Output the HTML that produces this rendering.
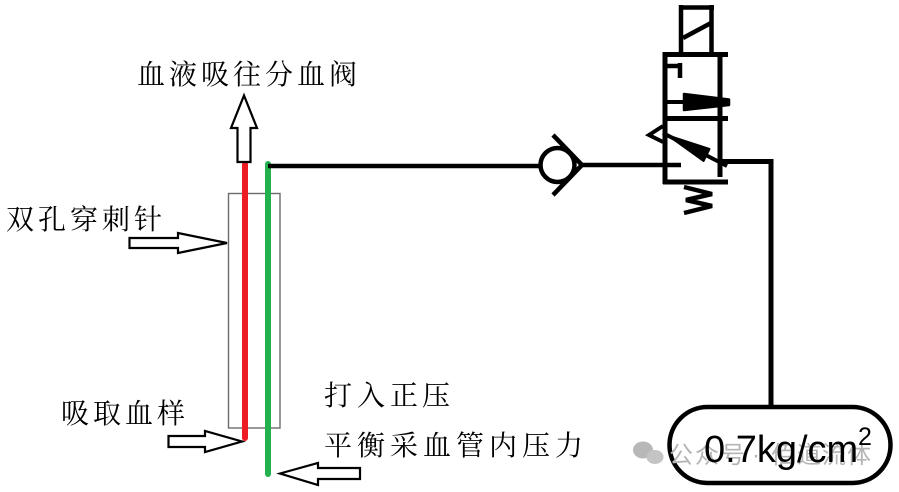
<!DOCTYPE html>
<html>
<head>
<meta charset="utf-8">
<style>
html,body{margin:0;padding:0;background:#fff;}
svg{display:block;}
.cjk{font-family:"Liberation Serif","Noto Serif CJK SC","Noto Sans CJK SC",serif;font-size:28px;fill:#000;}
.wm{font-family:"Liberation Sans","Noto Sans CJK SC",sans-serif;font-size:24px;fill:#b5b5b5;}
</style>
</head>
<body>
<svg width="899" height="492" viewBox="0 0 899 492" xmlns="http://www.w3.org/2000/svg">
  <rect x="0" y="0" width="899" height="492" fill="#fff"/>

  <!-- Labels -->
  <text class="cjk" x="137 169 201 233 265 297 329" y="84">血液吸往分血阀</text>
  <text class="cjk" x="6 38 70 102 134" y="229">双孔穿刺针</text>
  <text class="cjk" x="61 93 125 157" y="423">吸取血样</text>
  <text class="cjk" x="324 357 390 422" y="405">打入正压</text>
  <text class="cjk" x="324 357 390 423 456 489 522 555" y="455">平衡采血管内压力</text>

  <!-- Needle body rectangle -->
  <rect x="228.5" y="193.5" width="51.5" height="234.5" fill="none" stroke="#6b6b6b" stroke-width="1.4"/>
  <!-- red and green lines -->
  <line x1="245" y1="164" x2="245" y2="438" stroke="#ED1C24" stroke-width="6" stroke-linecap="round"/>
  <line x1="245" y1="164" x2="245" y2="170" stroke="#ED1C24" stroke-width="6"/>
  <line x1="268" y1="164" x2="268" y2="474" stroke="#22B14C" stroke-width="6" stroke-linecap="round"/>
  <line x1="268" y1="164" x2="268" y2="170" stroke="#22B14C" stroke-width="6"/>

  <!-- Outline arrows -->
  <polygon points="237.5,162 237.5,128 231,128 244,95.5 257,128 250.5,128 250.5,162" fill="#fff" stroke="#000" stroke-width="2.2"/>
  <polygon points="129.5,238 178,238 178,233 227,243 178,253 178,248 129.5,248" fill="#fff" stroke="#000" stroke-width="2.2"/>
  <polygon points="168.5,436 205,436 205,431 242,441.5 205,452 205,447 168.5,447" fill="#fff" stroke="#000" stroke-width="2.2"/>
  <polygon points="280,473.5 318,463 318,468 360,468 360,479 318,479 318,485" fill="#fff" stroke="#000" stroke-width="2.2"/>

  <!-- Pipe from needle to check valve -->
  <line x1="268" y1="166" x2="539" y2="166" stroke="#000" stroke-width="4.5"/>
  <!-- Check valve -->
  <circle cx="557.5" cy="165" r="17" fill="#fff" stroke="#000" stroke-width="4.5"/>
  <polyline points="553,135 582,165 553,195" fill="none" stroke="#000" stroke-width="4.5"/>
  <line x1="580" y1="165" x2="681" y2="165" stroke="#000" stroke-width="4.5"/>

  <!-- Solenoid coil -->
  <g stroke="#000" stroke-width="4.5" fill="none">
    <line x1="681" y1="5" x2="681" y2="55"/>
    <line x1="711.5" y1="5" x2="711.5" y2="55"/>
    <line x1="679" y1="7.5" x2="714" y2="7.5"/>
    <line x1="683" y1="38" x2="711" y2="23"/>
  </g>

  <!-- Valve body -->
  <g stroke="#000" stroke-width="5" fill="none">
    <line x1="665" y1="52" x2="665" y2="184"/>
    <line x1="663" y1="54.5" x2="728" y2="54.5"/>
    <line x1="663" y1="118.5" x2="728" y2="118.5"/>
    <line x1="663" y1="182" x2="728" y2="182"/>
    <line x1="720" y1="52" x2="720" y2="177"/>
  </g>
  <!-- stop symbol -->
  <g stroke="#000" stroke-width="4.5" fill="none">
    <line x1="666" y1="66" x2="682" y2="66"/>
    <line x1="680" y1="63" x2="680" y2="78"/>
  </g>
  <!-- upper arrow -->
  <line x1="665" y1="102" x2="728" y2="102" stroke="#000" stroke-width="4"/>
  <polygon points="684,94 729,99.5 729,105 684,110" fill="#000" stroke="#000" stroke-width="2.5" stroke-linejoin="round"/>
  <!-- lower arrow -->
  <polyline points="663,126 649,135 663,142" fill="none" stroke="#000" stroke-width="4"/>
  <line x1="663" y1="133" x2="727" y2="166" stroke="#000" stroke-width="4"/>
  <polygon points="668,135.5 709.5,149 703.5,161" fill="#000" stroke="#000" stroke-width="2" stroke-linejoin="round"/>
  <!-- spring -->
  <polyline points="684,187 712,194 686,200 712,206 684,213" fill="none" stroke="#000" stroke-width="4.5" stroke-linejoin="miter"/>

  <!-- Pipe to gauge -->
  <polyline points="718,161.5 771,161.5 771,406" fill="none" stroke="#000" stroke-width="5"/>

  <!-- Gauge -->
  <rect x="669.5" y="407" width="221" height="76" rx="38" ry="38" fill="#fff" stroke="#000" stroke-width="4.5"/>

  <!-- watermark -->
  <g fill="#b8b8b8">
    <ellipse cx="643" cy="450" rx="10" ry="8.5"/>
    <ellipse cx="655" cy="457" rx="8.5" ry="7" fill="#c4c4c4"/>
  </g>
  <text class="wm" x="669 695 721 752 771 797 822 847" y="463">公众号·佰道流体</text>

  <!-- gauge text -->
  <text x="704" y="462" font-family="Liberation Sans, Arial, sans-serif" font-size="38" fill="#000">0.7kg/cm</text>
  <text x="858" y="445" font-family="Liberation Sans, Arial, sans-serif" font-size="25" fill="#000">2</text>
</svg>
</body>
</html>
